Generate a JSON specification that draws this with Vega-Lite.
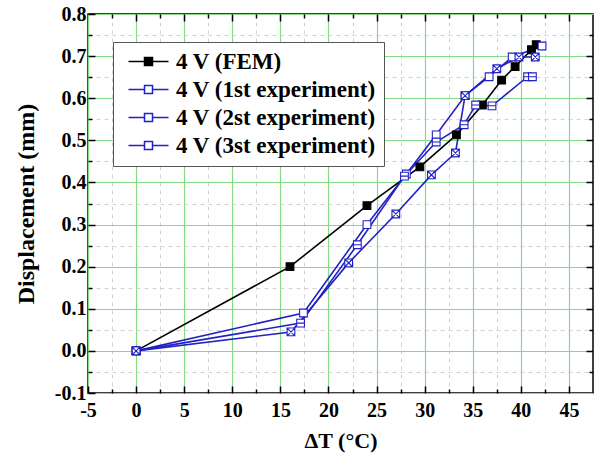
{
  "$schema": "https://vega.github.io/schema/vega-lite/v6.json",
  "width": 505,
  "height": 379,
  "autosize": {"type": "none"},
  "padding": {"left": 88, "top": 14, "right": 13, "bottom": 78},
  "background": "white",
  "config": {
    "view": {"stroke": "black", "strokeWidth": 1.5},
    "axis": {
      "labelFont": "Liberation Serif",
      "labelFontWeight": "bold",
      "labelFontSize": 20,
      "labelColor": "black",
      "titleFont": "Liberation Serif",
      "titleFontWeight": "bold",
      "titleFontSize": 22,
      "titleColor": "black",
      "domain": false,
      "tickColor": "black",
      "tickWidth": 1.5,
      "zindex": 0
    },
    "legend": {
      "labelFont": "Liberation Serif",
      "labelFontWeight": "bold",
      "labelFontSize": 23,
      "labelColor": "black",
      "labelLimit": 0
    }
  },
  "data": {
    "values": [
      {"series": "4 V (FEM)", "i": 0, "T": 0, "D": 0},
      {"series": "4 V (FEM)", "i": 1, "T": 16.0, "D": 0.2},
      {"series": "4 V (FEM)", "i": 2, "T": 24.0, "D": 0.345},
      {"series": "4 V (FEM)", "i": 3, "T": 29.5, "D": 0.437},
      {"series": "4 V (FEM)", "i": 4, "T": 33.3, "D": 0.513},
      {"series": "4 V (FEM)", "i": 5, "T": 36.0, "D": 0.584},
      {"series": "4 V (FEM)", "i": 6, "T": 38.0, "D": 0.643},
      {"series": "4 V (FEM)", "i": 7, "T": 39.4, "D": 0.675},
      {"series": "4 V (FEM)", "i": 8, "T": 41.1, "D": 0.715},
      {"series": "4 V (FEM)", "i": 9, "T": 41.6, "D": 0.727},
      {"series": "4 V (1st experiment)", "i": 0, "T": 0, "D": 0},
      {"series": "4 V (1st experiment)", "i": 1, "T": 17.4, "D": 0.09},
      {"series": "4 V (1st experiment)", "i": 2, "T": 24.0, "D": 0.30},
      {"series": "4 V (1st experiment)", "i": 3, "T": 28.1, "D": 0.42},
      {"series": "4 V (1st experiment)", "i": 4, "T": 31.2, "D": 0.513},
      {"series": "4 V (1st experiment)", "i": 5, "T": 34.2, "D": 0.606},
      {"series": "4 V (1st experiment)", "i": 6, "T": 36.7, "D": 0.651},
      {"series": "4 V (1st experiment)", "i": 7, "T": 39.1, "D": 0.698},
      {"series": "4 V (1st experiment)", "i": 8, "T": 42.2, "D": 0.724},
      {"series": "4 V (2st experiment)", "i": 0, "T": 0, "D": 0},
      {"series": "4 V (2st experiment)", "i": 1, "T": 17.1, "D": 0.066},
      {"series": "4 V (2st experiment)", "i": 2, "T": 23.0, "D": 0.252},
      {"series": "4 V (2st experiment)", "i": 3, "T": 27.9, "D": 0.415},
      {"series": "4 V (2st experiment)", "i": 4, "T": 31.2, "D": 0.496},
      {"series": "4 V (2st experiment)", "i": 5, "T": 34.1, "D": 0.537},
      {"series": "4 V (2st experiment)", "i": 6, "T": 35.3, "D": 0.584},
      {"series": "4 V (2st experiment)", "i": 7, "T": 37.0, "D": 0.582},
      {"series": "4 V (2st experiment)", "i": 8, "T": 40.7, "D": 0.651},
      {"series": "4 V (2st experiment)", "i": 9, "T": 41.2, "D": 0.651},
      {"series": "4 V (3st experiment)", "i": 0, "T": 0, "D": 0},
      {"series": "4 V (3st experiment)", "i": 1, "T": 16.1, "D": 0.045},
      {"series": "4 V (3st experiment)", "i": 2, "T": 22.1, "D": 0.209},
      {"series": "4 V (3st experiment)", "i": 3, "T": 27.0, "D": 0.325},
      {"series": "4 V (3st experiment)", "i": 4, "T": 30.7, "D": 0.418},
      {"series": "4 V (3st experiment)", "i": 5, "T": 33.2, "D": 0.47},
      {"series": "4 V (3st experiment)", "i": 6, "T": 34.2, "D": 0.606},
      {"series": "4 V (3st experiment)", "i": 7, "T": 37.5, "D": 0.67},
      {"series": "4 V (3st experiment)", "i": 8, "T": 39.8, "D": 0.698},
      {"series": "4 V (3st experiment)", "i": 9, "T": 41.5, "D": 0.698}
    ]
  },
  "resolve": {"axis": {"x": "independent", "y": "independent"}},
  "layer": [
    {
      "mark": {"type": "line", "strokeWidth": 1.6},
      "encoding": {
        "x": {
          "field": "T", "type": "quantitative",
          "scale": {"domain": [-5, 47.5], "nice": false, "zero": false},
          "axis": {
            "orient": "bottom",
            "title": "ΔT (°C)",
            "titleFontSize": 22,
            "titlePadding": 10,
            "values": [-5, -2.5, 0, 2.5, 5, 7.5, 10, 12.5, 15, 17.5, 20, 22.5, 25, 27.5, 30, 32.5, 35, 37.5, 40, 42.5, 45],
            "labelExpr": "datum.value % 5 === 0 ? '' + datum.value : ''",
            "labelPadding": 14,
            "labelFlush": false,
            "grid": true,
            "gridColor": {"condition": {"test": "datum.value % 5 === 0", "value": "#86da86"}, "value": "#c8c8c8"},
            "gridDash": {"condition": {"test": "datum.value % 5 === 0", "value": []}, "value": [4, 4]},
            "gridWidth": {"condition": {"test": "datum.value % 5 === 0", "value": 1.2}, "value": 0.8},
            "tickSize": {"condition": {"test": "datum.value % 5 === 0", "value": -7}, "value": -4}
          }
        },
        "y": {
          "field": "D", "type": "quantitative",
          "scale": {"domain": [-0.1, 0.8], "nice": false, "zero": false},
          "axis": {
            "orient": "left",
            "title": "Displacement (mm)",
            "titleFontSize": 24,
            "titlePadding": 16,
            "values": [-0.1, -0.05, 0, 0.05, 0.1, 0.15, 0.2, 0.25, 0.3, 0.35, 0.4, 0.45, 0.5, 0.55, 0.6, 0.65, 0.7, 0.75, 0.8],
            "labelExpr": "abs(round(datum.value*10) - datum.value*10) < 0.001 ? replace(format(datum.value, '.1f'), '−', '-') : ''",
            "labelPadding": 9,
            "labelFlush": false,
            "grid": true,
            "gridColor": {"condition": {"test": "abs(round(datum.value*10) - datum.value*10) < 0.001", "value": "#86da86"}, "value": "#c8c8c8"},
            "gridDash": {"condition": {"test": "abs(round(datum.value*10) - datum.value*10) < 0.001", "value": []}, "value": [4, 4]},
            "gridWidth": {"condition": {"test": "abs(round(datum.value*10) - datum.value*10) < 0.001", "value": 1.2}, "value": 0.8},
            "tickSize": {"condition": {"test": "abs(round(datum.value*10) - datum.value*10) < 0.001", "value": -7}, "value": -4}
          }
        },
        "stroke": {
          "condition": {"test": "datum.series === '4 V (FEM)'", "value": "#000000"},
          "value": "#2222c4"
        },
        "detail": {"field": "series", "type": "nominal"},
        "order": {"field": "i", "type": "quantitative"}
      }
    },
    {
      "mark": {"type": "point", "filled": true, "strokeWidth": 1.1, "opacity": 1},
      "encoding": {
        "x": {
          "field": "T", "type": "quantitative",
          "axis": {
            "orient": "top",
            "title": null,
            "labels": false,
            "grid": false,
            "values": [-2.5, 0, 2.5, 5, 7.5, 10, 12.5, 15, 17.5, 20, 22.5, 25, 27.5, 30, 32.5, 35, 37.5, 40, 42.5, 45],
            "tickSize": {"condition": {"test": "datum.value % 5 === 0", "value": -7}, "value": -4}
          }
        },
        "y": {
          "field": "D", "type": "quantitative",
          "axis": {
            "orient": "right",
            "title": null,
            "labels": false,
            "grid": false,
            "values": [-0.05, 0, 0.05, 0.1, 0.15, 0.2, 0.25, 0.3, 0.35, 0.4, 0.45, 0.5, 0.55, 0.6, 0.65, 0.7, 0.75],
            "tickSize": {"condition": {"test": "abs(round(datum.value*10) - datum.value*10) < 0.001", "value": -7}, "value": -4}
          }
        },
        "stroke": {
          "field": "series", "type": "nominal",
          "scale": {
            "domain": ["4 V (FEM)", "4 V (1st experiment)", "4 V (2st experiment)", "4 V (3st experiment)"],
            "range": ["#000000", "#2222c4", "#2222c4", "#2222c4"]
          },
          "legend": {
            "orient": "none",
            "legendX": 25,
            "legendY": 28,
            "title": null,
            "padding": 8,
            "strokeColor": "#555555",
            "fillColor": "white",
            "symbolType": "M-5,0H-1M1,0H5M-1,-1H1V1H-1Z",
            "symbolSize": 64,
            "symbolStrokeWidth": 1.5,
            "symbolOffset": 16,
            "labelOffset": 16,
            "rowPadding": 4
          }
        },
        "fill": {
          "field": "series", "type": "nominal",
          "scale": {
            "domain": ["4 V (FEM)", "4 V (1st experiment)", "4 V (2st experiment)", "4 V (3st experiment)"],
            "range": ["#000000", "#ffffff", "#ffffff", "#ffffff"]
          },
          "legend": {
            "orient": "none",
            "legendX": 25,
            "legendY": 28,
            "title": null,
            "padding": 8,
            "strokeColor": "#555555",
            "fillColor": "white",
            "symbolType": "M-5,0H-1M1,0H5M-1,-1H1V1H-1Z",
            "symbolSize": 64,
            "symbolStrokeWidth": 1.5,
            "symbolOffset": 16,
            "labelOffset": 16,
            "rowPadding": 4
          }
        },
        "shape": {
          "condition": [
            {"test": "datum.series === '4 V (2st experiment)'", "value": "M-1,-1H1V1H-1ZM-1,0H1"},
            {"test": "datum.series === '4 V (3st experiment)'", "value": "M-1,-1H1V1H-1ZM-1,-1L1,1M1,-1L-1,1"}
          ],
          "value": "M-1,-1H1V1H-1Z"
        },
        "size": {"value": 60}
      }
    }
  ]
}
